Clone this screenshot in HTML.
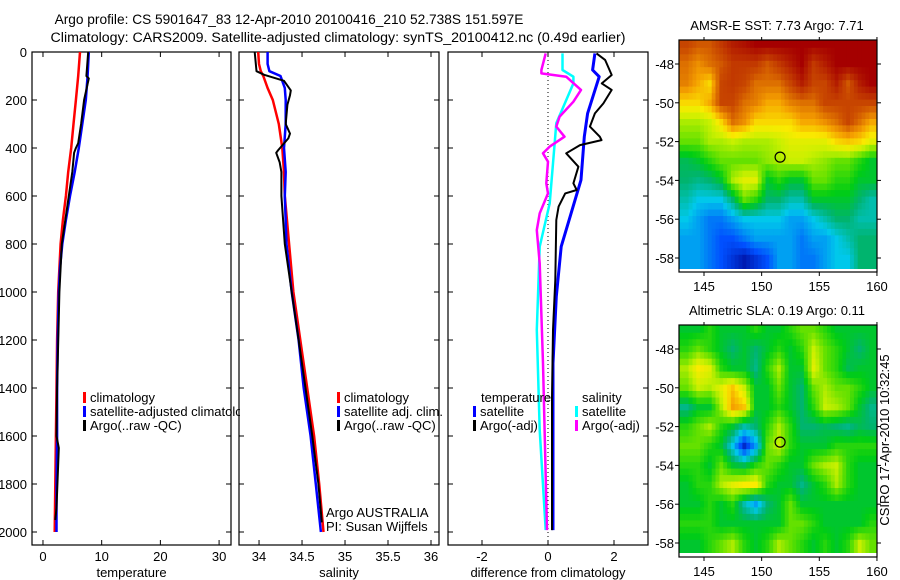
<!DOCTYPE html>
<html><head><meta charset="utf-8">
<style>
html,body{margin:0;padding:0;background:#fff;}
svg{display:block;font-family:"Liberation Sans",sans-serif;}
text{font-size:13px;fill:#000;}
</style></head>
<body>
<svg id="fig" width="900" height="580" viewBox="0 0 900 580">
<defs>
<clipPath id="c1"><rect x="32" y="52" width="208" height="493"/></clipPath>
<clipPath id="c2"><rect x="239" y="52" width="200" height="493"/></clipPath>
<clipPath id="c3"><rect x="448" y="52" width="200" height="493"/></clipPath>
<clipPath id="cm1"><rect x="679" y="40" width="198" height="229"/></clipPath>
<clipPath id="cm2"><rect x="679" y="325" width="198" height="228"/></clipPath>
</defs>
<text x="289" y="24" text-anchor="middle" style="font-size:13.7px">Argo profile: CS 5901647_83 12-Apr-2010 20100416_210 52.738S 151.597E</text>
<text x="338" y="42" text-anchor="middle" style="font-size:14.2px">Climatology: CARS2009. Satellite-adjusted climatology: synTS_20100412.nc (0.49d earlier)</text>
<text x="889" y="440" text-anchor="middle" transform="rotate(-90 889 440)">CSIRO 17-Apr-2010 10:32:45</text>
<g id="layer"></g>
</svg>
<script>
// ---- profile data ----
const tDepth=[0,100,200,300,400,500,600,700,800,900,1000,1200,1400,1600,1800,2000];
const tClim=[6.3,6.0,5.6,5.2,4.8,4.3,3.9,3.4,3.0,2.8,2.6,2.4,2.3,2.2,2.1,2.0];
const tSat=[7.8,7.6,7.3,6.7,6.1,5.4,4.6,3.9,3.3,2.9,2.7,2.5,2.4,2.4,2.3,2.3];
const tArgoDepth=[0,100,110,200,300,380,400,420,500,600,800,1000,1400,1600,1650,1900,1950];
const tArgo=[7.7,7.4,7.8,7.0,6.5,6.0,5.6,5.3,5.0,4.4,3.2,2.8,2.4,2.3,2.7,2.3,2.1];

const sDepth=[0,50,80,100,150,200,300,400,500,600,800,1000,1200,1400,1600,1800,2000];
const sClim=[33.99,34.0,34.02,34.05,34.1,34.16,34.23,34.27,34.29,34.3,34.35,34.4,34.48,34.56,34.64,34.7,34.75];
const sSat=[34.1,34.1,34.12,34.25,34.3,34.31,34.31,34.29,34.31,34.3,34.32,34.38,34.46,34.52,34.6,34.66,34.72];
const sArgoDepth=[0,80,95,120,160,180,220,300,340,360,410,420,460,500,600,800,1000,1200,1400,1600,1800,1960];
const sArgo=[33.95,33.97,34.06,34.29,34.37,34.36,34.33,34.31,34.36,34.34,34.22,34.2,34.24,34.26,34.26,34.3,34.38,34.46,34.54,34.62,34.69,34.73];

const dTSatDepth=[6,75,103,256,353,533,672,811,1019,1297,1992];
const dTSat=[1.42,1.35,1.55,1.2,1.1,1.0,0.7,0.4,0.25,0.15,0.15];
const dTArgoDepth=[6,33,96,131,158,214,256,311,353,367,388,422,478,547,575,589,644,700,950,1158,1436,1992];
const dTArgo=[1.47,1.73,1.93,1.63,1.93,1.68,1.42,1.27,1.57,1.62,0.97,0.55,0.92,0.77,0.87,0.52,0.32,0.25,0.22,0.15,0.12,0.12];
const dSSatDepth=[6,75,103,131,297,464,631,811,1158,1575,1992];
const dSSat=[0.44,0.44,0.77,0.77,0.25,0.15,0.05,-0.25,-0.34,-0.25,-0.07];
const dSArgoDepth=[6,75,89,103,158,207,269,311,353,394,422,457,547,589,672,742,881,1297,1992];
const dSArgo=[-0.07,-0.2,-0.2,0.55,1.0,0.77,0.35,0.25,0.5,0.05,-0.15,0,-0.05,0,-0.25,-0.34,-0.25,-0.15,-0.03];

const depthTicks=[0,200,400,600,800,1000,1200,1400,1600,1800,2000];
const tTicks=[0,10,20,30];
const sTicks=[34,34.5,35,35.5,36];
const dTicks=[-2,0,2];

// ---- map data (colormap index 0..1), rows lat -47..-59, cols lon 143.5..159.5 ----
const mapLats=[-47,-48,-49,-50,-51,-52,-53,-54,-55,-56,-57,-58,-59];
const mapLons=[143.5,144.5,145.5,146.5,147.5,148.5,149.5,150.5,151.5,152.5,153.5,154.5,155.5,156.5,157.5,158.5,159.5];
const sstGrid=[
[0.88,0.85,0.85,0.9,0.95,0.97,1,1,1,1,1,1,1,1,1,1,1],
[0.82,0.78,0.82,0.85,0.9,0.9,0.9,0.85,0.9,0.95,1,0.9,0.95,1,1,1,1],
[0.8,0.75,0.7,0.88,0.9,0.88,0.82,0.82,0.82,0.88,0.95,0.88,0.88,0.95,0.85,0.95,1],
[0.7,0.7,0.75,0.88,0.88,0.82,0.8,0.75,0.75,0.8,0.82,0.82,0.88,0.88,0.88,0.88,0.88],
[0.6,0.6,0.62,0.7,0.82,0.78,0.7,0.7,0.7,0.7,0.75,0.75,0.78,0.82,0.88,0.82,0.75],
[0.55,0.55,0.6,0.6,0.62,0.6,0.6,0.6,0.62,0.65,0.65,0.65,0.65,0.7,0.72,0.7,0.65],
[0.42,0.45,0.5,0.55,0.55,0.55,0.55,0.58,0.6,0.62,0.62,0.6,0.58,0.55,0.55,0.5,0.45],
[0.4,0.38,0.4,0.45,0.6,0.65,0.65,0.45,0.5,0.45,0.45,0.55,0.55,0.5,0.5,0.45,0.45],
[0.35,0.3,0.3,0.3,0.4,0.55,0.5,0.4,0.4,0.35,0.35,0.45,0.45,0.45,0.45,0.4,0.35],
[0.3,0.25,0.2,0.2,0.25,0.3,0.3,0.3,0.3,0.25,0.25,0.3,0.35,0.4,0.4,0.35,0.35],
[0.25,0.25,0.2,0.15,0.15,0.2,0.25,0.25,0.25,0.25,0.2,0.25,0.25,0.3,0.35,0.4,0.4],
[0.25,0.25,0.2,0.15,0.1,0.05,0.1,0.15,0.25,0.25,0.2,0.2,0.25,0.3,0.3,0.4,0.4],
[0.25,0.25,0.2,0.15,0.1,0.05,0.1,0.15,0.25,0.25,0.2,0.2,0.25,0.3,0.3,0.4,0.4]];
const slaGrid=[
[0.45,0.45,0.5,0.45,0.45,0.45,0.5,0.45,0.45,0.5,0.55,0.55,0.5,0.45,0.45,0.45,0.45],
[0.5,0.55,0.5,0.45,0.4,0.45,0.4,0.45,0.5,0.45,0.5,0.62,0.55,0.5,0.45,0.4,0.45],
[0.6,0.68,0.65,0.5,0.45,0.45,0.38,0.5,0.6,0.45,0.45,0.65,0.55,0.5,0.42,0.45,0.45],
[0.55,0.62,0.6,0.65,0.72,0.62,0.45,0.45,0.55,0.45,0.4,0.55,0.6,0.55,0.55,0.5,0.45],
[0.38,0.45,0.45,0.6,0.76,0.72,0.45,0.45,0.5,0.45,0.4,0.5,0.62,0.6,0.55,0.45,0.38],
[0.5,0.55,0.6,0.5,0.45,0.35,0.4,0.5,0.6,0.5,0.4,0.4,0.42,0.4,0.38,0.42,0.4],
[0.55,0.55,0.5,0.45,0.3,0.08,0.25,0.55,0.62,0.5,0.45,0.45,0.45,0.5,0.5,0.5,0.5],
[0.5,0.5,0.45,0.55,0.45,0.42,0.5,0.55,0.5,0.45,0.45,0.55,0.6,0.62,0.5,0.45,0.45],
[0.45,0.5,0.5,0.6,0.65,0.68,0.68,0.5,0.45,0.45,0.38,0.45,0.5,0.6,0.5,0.45,0.45],
[0.45,0.45,0.5,0.45,0.5,0.35,0.25,0.4,0.45,0.55,0.45,0.45,0.45,0.45,0.45,0.45,0.45],
[0.5,0.5,0.5,0.45,0.45,0.45,0.45,0.45,0.45,0.55,0.55,0.5,0.45,0.45,0.45,0.45,0.5],
[0.45,0.45,0.5,0.55,0.6,0.5,0.45,0.5,0.6,0.55,0.5,0.45,0.5,0.45,0.5,0.62,0.55],
[0.45,0.45,0.5,0.55,0.6,0.5,0.45,0.5,0.6,0.55,0.5,0.45,0.5,0.45,0.5,0.62,0.55]];
const floatLon=151.6, floatLat=-52.8;
const latTicks=[-48,-50,-52,-54,-56,-58];
const lonTicks=[145,150,155,160];

const NS="http://www.w3.org/2000/svg";
const L=document.getElementById('layer');
function mk(tag,attrs,parent){const e=document.createElementNS(NS,tag);for(const k in attrs)e.setAttribute(k,attrs[k]);(parent||L).appendChild(e);return e;}
function txt(x,y,s,anchor,parent){const t=mk('text',{x:x,y:y,'text-anchor':anchor||'start'},parent);t.textContent=s;return t;}

const Y0=52, Y1=545;
const depthY=d=>Y0+d*0.24;
const panels=[
 {x0:32,x1:231,v0:-1.87,v1:32.03,clip:'c1',ticks:tTicks,label:'temperature',name:'temperature-panel'},
 {x0:239,x1:439,v0:33.767,v1:36.093,clip:'c2',ticks:sTicks,label:'salinity',name:'salinity-panel'},
 {x0:448,x1:648,v0:-3.03,v1:3.03,clip:'c3',ticks:dTicks,label:'difference from climatology',name:'difference-panel'}];
panels.forEach(p=>{p.X=v=>p.x0+(v-p.v0)/(p.v1-p.v0)*(p.x1-p.x0);});

function line(p,depths,vals,color,name,w){
  let d='';depths.forEach((dd,i)=>{d+=(i?'L':'M')+p.X(vals[i]).toFixed(1)+','+depthY(dd).toFixed(1);});
  const e=mk('path',{d:d,fill:'none',stroke:color,'stroke-width':w||2.5,'stroke-linejoin':'round','clip-path':'url(#'+p.clip+')'});
  
  
}

panels.forEach((p,pi)=>{
  const g=mk('g',{});
  
  
  mk('rect',{x:p.x0,y:Y0,width:p.x1-p.x0,height:Y1-Y0,fill:'none',stroke:'#000','stroke-width':1.2},g);
  depthTicks.forEach(d=>{
    const y=depthY(d);
    mk('line',{x1:p.x0,x2:p.x0+5,y1:y,y2:y,stroke:'#000'},g);
    mk('line',{x1:p.x1-5,x2:p.x1,y1:y,y2:y,stroke:'#000'},g);
    if(pi===0){const t=txt(27,y+5,String(d),'end',g);}
  });
  p.ticks.forEach(v=>{
    const x=p.X(v);
    mk('line',{x1:x,x2:x,y1:Y1,y2:Y1-5,stroke:'#000'},g);
    mk('line',{x1:x,x2:x,y1:Y0,y2:Y0+5,stroke:'#000'},g);
    const t=txt(x,561,String(v),'middle',g);
    
    
  });
  const xl=txt((p.x0+p.x1)/2,577,p.label,'middle',g);
  
  
});

line(panels[0],tDepth,tClim,'#ff0000','temp-climatology-line');
line(panels[0],tDepth,tSat,'#0000ff','temp-satellite-line');
line(panels[0],tArgoDepth,tArgo,'#000000','temp-argo-line',2);
line(panels[1],sDepth,sClim,'#ff0000','sal-climatology-line');
line(panels[1],sDepth,sSat,'#0000ff','sal-satellite-line');
line(panels[1],sArgoDepth,sArgo,'#000000','sal-argo-line',2);
const zx=panels[2].X(0);
const zl=mk('line',{x1:zx,x2:zx,y1:Y0,y2:Y1,stroke:'#000','stroke-dasharray':'1,3'});


line(panels[2],dTSatDepth,dTSat,'#0000ff','diff-temp-satellite-line',3);
line(panels[2],dTArgoDepth,dTArgo,'#000000','diff-temp-argo-line',2);
line(panels[2],dSSatDepth,dSSat,'#00ffff','diff-sal-satellite-line',2.5);
line(panels[2],dSArgoDepth,dSArgo,'#ff00ff','diff-sal-argo-line',2.5);

function legend(x,y,color,label,clip){
  const g=mk('g',clip?{'clip-path':'url(#'+clip+')'}:{});
  
  
  mk('rect',{x:x,y:y-10,width:3,height:11,fill:color},g);
  txt(x+7,y,label,'start',g);
}
legend(83,402,'#ff0000','climatology');
legend(83,416,'#0000ff','satellite-adjusted climatology','c1');
legend(83,430,'#000000','Argo(..raw -QC)');
legend(337,402,'#ff0000','climatology');
legend(337,416,'#0000ff','satellite adj. clim.');
legend(337,430,'#000000','Argo(..raw -QC)');
let t=txt(481,402,'temperature');
legend(473,416,'#0000ff','satellite');
legend(473,430,'#000000','Argo(-adj)');
t=txt(582,402,'salinity');
legend(575,416,'#00ffff','satellite');
legend(575,430,'#ff00ff','Argo(-adj)');
t=txt(326,517,'Argo AUSTRALIA');
t=txt(326,531,'PI: Susan Wijffels');

// ---- maps ----
const cmapStops=[[0,0,0,140],[0.15,0,80,255],[0.3,0,200,235],[0.4,0,180,110],[0.47,0,205,20],[0.55,100,225,0],[0.62,200,240,0],[0.68,250,235,0],[0.76,245,160,0],[0.86,205,80,0],[1,165,0,0]];
function cmap(v){
  v=Math.max(0,Math.min(1,v));
  for(let i=1;i<cmapStops.length;i++){
    const a=cmapStops[i-1],b=cmapStops[i];
    if(v<=b[0]){const f=(v-a[0])/(b[0]-a[0]);
      return 'rgb('+[1,2,3].map(k=>Math.round(a[k]+(b[k]-a[k])*f)).join(',')+')';}
  }
  return 'rgb(165,0,0)';
}
const lonX=l=>704+(l-145)*11.53;
function sample(grid,r,c){
  r=Math.max(0,Math.min(grid.length-1,r));c=Math.max(0,Math.min(grid[0].length-1,c));
  const r0=Math.floor(r),c0=Math.floor(c),r1=Math.min(r0+1,grid.length-1),c1=Math.min(c0+1,grid[0].length-1);
  const fr=r-r0,fc=c-c0;
  return grid[r0][c0]*(1-fr)*(1-fc)+grid[r0][c1]*(1-fr)*fc+grid[r1][c0]*fr*(1-fc)+grid[r1][c1]*fr*fc;
}
function drawMap(grid,top,title,clip,name,sub){
  const latY=la=>top+24+(-48-la)*19.4;
  const g=mk('g',{});
  
  
  const cg=mk('g',{'clip-path':'url(#'+clip+')'},g);
  const nr=grid.length*sub, nc=grid[0].length*sub;
  for(let i=0;i<nr;i++){for(let j=0;j<nc;j++){
    const rr=(i+0.5)/sub-0.5, cc=(j+0.5)/sub-0.5;
    const v=sample(grid,rr,cc);
    const lat0=mapLats[0]+0.5-i/sub, lat1=lat0-1/sub;
    const lon0=mapLons[0]-0.5+j/sub, lon1=lon0+1/sub;
    const x0=lonX(lon0)-(j===0?4:0), x1=lonX(lon1)+0.6;
    const y0=latY(lat0), y1=latY(lat1)+0.6;
    const c=mk('rect',{x:x0.toFixed(1),y:y0.toFixed(1),width:(x1-x0).toFixed(1),height:(y1-y0).toFixed(1),fill:cmap(v)},cg);
    
    
  }}
  mk('rect',{x:679,y:top,width:198,height:232,fill:'none',stroke:'#000','stroke-width':1.2},g);
  const circ=mk('circle',{cx:lonX(floatLon),cy:latY(floatLat),r:5,fill:'none',stroke:'#000','stroke-width':1.2},g);
  
  
  latTicks.forEach(la=>{
    const y=latY(la);
    mk('line',{x1:877,x2:881,y1:y,y2:y,stroke:'#000'},g);
    mk('line',{x1:679,x2:675,y1:y,y2:y,stroke:'#000'},g);
    const tl=txt(674,y+5,String(la),'end',g);
    
    
  });
  lonTicks.forEach(lo=>{
    const x=lonX(lo);
    mk('line',{x1:x,x2:x,y1:top+232,y2:top+236,stroke:'#000'},g);
    mk('line',{x1:x,x2:x,y1:top,y2:top-3,stroke:'#000'},g);
    const tl=txt(x,top+251,String(lo),'middle',g);
    
    
  });
  const tt=txt(777,top-10,title,'middle',g);
  
  
}
drawMap(sstGrid,40,'AMSR-E SST: 7.73 Argo: 7.71','cm1','sst-map',3);
drawMap(slaGrid,325,'Altimetric SLA: 0.19 Argo: 0.11','cm2','sla-map',3);
</script>
</body></html>
